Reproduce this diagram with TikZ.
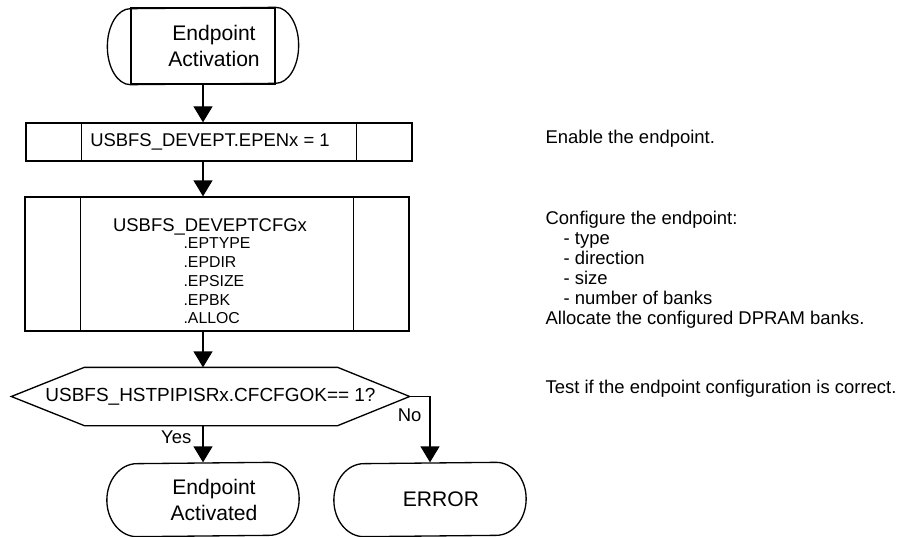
\documentclass[tikz,border=0pt]{standalone}
\usepackage{fontspec}
\setmainfont{Liberation Sans}
\usetikzlibrary{arrows.meta}

% rounded ends of a terminal: node name, x radius, y radius
\newcommand{\termcaps}[3]{%
  \draw (#1.north east) arc[start angle=90, end angle=-90, x radius=#2, y radius=#3]
        -- (#1.south west) arc[start angle=270, end angle=90, x radius=#2, y radius=#3] -- cycle;}
\newcommand{\tpad}{\hspace*{0.44cm}}

\begin{document}
\begin{tikzpicture}[
  line width=0.75pt,
  flow/.style={-{Triangle[width=0.38cm,length=0.32cm]}},
  term/.style={minimum width=#1, inner sep=0pt, align=center,
               font=\fontsize{12}{14.8}\selectfont},
  proc/.style={draw, minimum width=#1, inner sep=0pt, align=center,
               font=\fontsize{10.5}{11.4}\selectfont},
  note/.style={anchor=west, align=left, inner sep=0pt,
               font=\fontsize{10.5}{11.4}\selectfont},
  lbl/.style={inner sep=0pt, font=\fontsize{10.5}{11.4}\selectfont},
]
\useasboundingbox (0,0) rectangle (18.04,-10.74);

% --- Start ---
\node[term=2.88cm, draw, minimum height=1.52cm] (start) at (4.06,-0.92)
  {\tpad Endpoint\\\tpad Activation};
\termcaps{start}{0.46cm}{0.76cm}

% --- Register steps ---
\node[proc=7.72cm, minimum height=0.76cm] (enable) at (4.38,-2.84)
  {USBFS\_DEVEPT.EPENx = 1\hspace*{0.36cm}};
\node[proc=7.68cm, minimum height=2.68cm] (config) at (4.34,-5.28)
  {\rule{0pt}{0.66cm}USBFS\_DEVEPTCFGx\hspace*{0.28cm}\\[-1.5pt]
   {\fontsize{9}{10.7}\selectfont\begin{tabular}[t]{@{}l@{}}
     .EPTYPE\\ .EPDIR\\ .EPSIZE\\ .EPBK\\ .ALLOC
   \end{tabular}}};
\foreach \n in {enable,config} {
  \draw ([xshift=1.12cm]\n.north west) -- ([xshift=1.12cm]\n.south west);
  \draw ([xshift=-1.12cm]\n.north east) -- ([xshift=-1.12cm]\n.south east);
}

% --- Decision ---
\node[lbl, minimum width=7.94cm, minimum height=1.14cm,
      font=\fontsize{10.8}{12}\selectfont] (test) at (4.21,-7.93)
  {USBFS\_HSTPIPISRx.CFCFGOK== 1?};
\draw (test.west) -- ([xshift=1.46cm]test.north west) -- ([xshift=-1.44cm]test.north east)
  -- (test.east) -- ([xshift=-1.44cm]test.south east) -- ([xshift=1.46cm]test.south west) -- cycle;

% --- Ends ---
\node[term=2.62cm, minimum height=1.46cm] (done) at (4.06,-9.99)
  {\tpad Endpoint\\\tpad Activated};
\termcaps{done}{0.6cm}{0.73cm}
\node[term=2.62cm, minimum height=1.46cm] (error) at (8.6,-9.99) {\tpad ERROR};
\termcaps{error}{0.6cm}{0.73cm}

% --- Flow ---
\draw[flow] (start.south) -- (start.south |- enable.north);
\draw[flow] (start.south |- enable.south) -- (start.south |- config.north);
\draw[flow] (start.south |- config.south) -- (start.south |- test.north);
\draw[flow] (start.south |- test.south) -- node[lbl, pos=0.32, left=0.22cm] {Yes} (done.north);
\draw[flow] (test.east) -| node[lbl, pos=0.64, left=0.16cm] {No} (error.north);

% --- Notes ---
\node[note] (enablenote) at (10.9,-2.78) {Enable the endpoint.};
\node[note] (cfgnote) at (10.9,-5.39) {Configure the endpoint:\\
  \hspace*{0.36cm}- type\\ \hspace*{0.36cm}- direction\\ \hspace*{0.36cm}- size\\
  \hspace*{0.36cm}- number of banks\\ Allocate the configured DPRAM banks.};
\node[note] (testnote) at (10.9,-7.78) {Test if the endpoint configuration is correct.};

\end{tikzpicture}
\end{document}
